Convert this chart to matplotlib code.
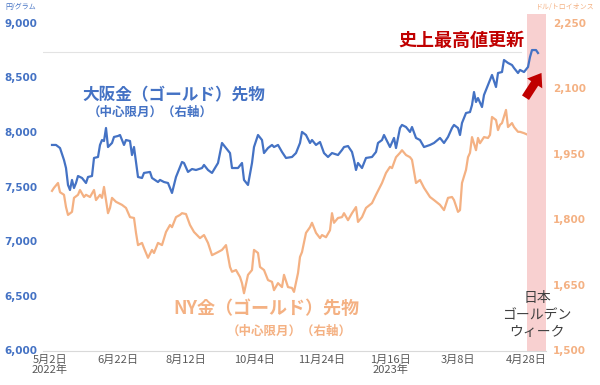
import matplotlib
matplotlib.use('Agg')
import matplotlib.pyplot as plt

plt.rcParams['font.family'] = ['Noto Sans CJK JP', 'DejaVu Sans']

# 大阪金（ゴールド）先物 円/グラム  (営業日インデックス, 値)
osaka_idx = [1, 3, 5, 7, 8, 9, 10, 11, 12, 13, 14, 16, 18, 19, 21, 22, 24, 25, 26, 27,
             28, 29, 31, 32, 34, 35, 37, 38, 40, 41, 42, 43, 44, 46, 47, 50, 51, 54, 55, 57,
             59, 61, 63, 66, 67, 69, 71, 73, 76, 77, 79, 81, 84, 86, 88, 90, 91, 94, 96, 97,
             99, 101, 102, 104, 106, 107, 109, 111, 112, 114, 116, 118, 121, 123, 125, 126, 128, 130, 131, 133,
             135, 137, 139, 141, 144, 146, 147, 149, 151, 152, 153, 154, 156, 158, 161, 163, 164, 166, 167, 169,
             170, 172, 173, 175, 176, 178, 180, 181, 183, 185, 187, 190, 192, 195, 197, 199, 201, 202, 204, 205,
             206, 208, 210, 211, 212, 213, 214, 216, 217, 219, 220, 221, 223, 224, 226, 227, 229, 231, 232, 234,
             235, 237, 239, 240, 241, 243, 244]
osaka = [7880, 7880, 7852, 7742, 7669, 7514, 7468, 7560, 7486, 7532, 7596, 7578, 7532, 7587, 7596, 7761, 7770, 7880, 7925, 7916,
         8035, 7861, 7898, 7953, 7962, 7971, 7880, 7925, 7916, 7788, 7861, 7724, 7587, 7578, 7624, 7633, 7578, 7541, 7560, 7541,
         7532, 7441, 7587, 7724, 7715, 7633, 7660, 7651, 7669, 7697, 7651, 7624, 7715, 7898, 7852, 7806, 7669, 7669, 7715, 7560,
         7514, 7715, 7861, 7971, 7925, 7806, 7852, 7880, 7861, 7880, 7816, 7761, 7770, 7806, 7898, 7999, 7971, 7898, 7925, 7880,
         7907, 7806, 7770, 7806, 7788, 7834, 7861, 7870, 7816, 7742, 7651, 7715, 7669, 7761, 7770, 7816, 7898, 7925, 7971, 7898,
         7861, 7944, 7852, 8035, 8063, 8044, 7999, 8044, 7944, 7925, 7861, 7880, 7898, 7944, 7898, 7953, 8035, 8063, 8035, 7971,
         8081, 8172, 8181, 8245, 8364, 8273, 8309, 8227, 8337, 8428, 8474, 8520, 8410, 8538, 8547, 8657, 8630, 8611, 8584, 8538,
         8566, 8547, 8593, 8684, 8748, 8748, 8721]

# NY金（ゴールド）先物 ドル/トロイオンス
ny_idx = [1, 2, 4, 5, 7, 8, 9, 11, 12, 14, 15, 17, 18, 20, 22, 23, 25, 26, 27, 29,
          30, 31, 33, 36, 38, 40, 42, 43, 44, 46, 47, 49, 51, 52, 54, 56, 58, 60, 61, 63,
          65, 66, 68, 70, 72, 75, 77, 79, 81, 84, 86, 88, 90, 91, 93, 95, 96, 97, 99, 101,
          102, 104, 105, 107, 109, 111, 112, 114, 116, 117, 119, 121, 122, 124, 125, 126, 128, 130, 131, 133,
          135, 136, 138, 140, 141, 142, 144, 146, 147, 149, 151, 153, 154, 156, 158, 161, 163, 165, 166, 168,
          170, 171, 173, 175, 176, 178, 180, 181, 183, 185, 187, 190, 192, 195, 197, 199, 201, 202, 204, 205,
          206, 208, 209, 210, 211, 213, 214, 215, 217, 219, 220, 221, 223, 224, 225, 226, 228, 229, 231, 232,
          234, 235, 237, 239, 241, 242, 243]
ny = [1865, 1872, 1883, 1862, 1856, 1828, 1810, 1817, 1849, 1856, 1867, 1851, 1856, 1851, 1867, 1844, 1856, 1849, 1874, 1814,
      1826, 1849, 1840, 1833, 1826, 1805, 1803, 1769, 1741, 1746, 1734, 1712, 1730, 1723, 1746, 1741, 1771, 1787, 1782, 1805,
      1810, 1814, 1812, 1787, 1771, 1757, 1764, 1746, 1718, 1725, 1730, 1741, 1691, 1680, 1684, 1668, 1654, 1631, 1673, 1684,
      1730, 1723, 1691, 1684, 1661, 1657, 1638, 1654, 1645, 1673, 1645, 1643, 1634, 1677, 1714, 1725, 1769, 1782, 1792, 1769,
      1757, 1764, 1759, 1775, 1814, 1792, 1803, 1805, 1814, 1798, 1814, 1828, 1794, 1805, 1826, 1837, 1856, 1874, 1883, 1906,
      1920, 1917, 1942, 1952, 1958, 1947, 1942, 1936, 1883, 1890, 1872, 1851, 1844, 1833, 1821, 1849, 1851, 1844, 1817, 1821,
      1883, 1913, 1942, 1952, 1988, 1958, 1986, 1974, 1988, 1986, 1993, 2034, 2027, 2004, 2016, 2020, 2050, 2011, 2020, 2011,
      2000, 2000, 1997, 1993, 2027, 2055, 2022]

# 目盛り
tick_pos = [0, 34, 68, 102, 136, 170, 204, 238]
tick_labels = ['5月2日\n2022年', '6月22日', '8月12日', '10月4日', '11月24日', '1月16日\n2023年', '3月8日', '4月28日']
left_ticks = [6000, 6500, 7000, 7500, 8000, 8500, 9000]
right_ticks = [1500, 1650, 1800, 1950, 2100, 2250]

# ゴールデンウィーク
gw_start, gw_end = 238.5, 248
prev_high = 8730
arrow_from = (237, 8291)
arrow_to = (246.5, 8560)

blue = '#4472c4'
orange = '#f4b183'
red = '#c00000'

fig = plt.figure(figsize=(6, 3.85), dpi=100)
ax = fig.add_axes([43 / 600, 1 - 350.5 / 385, 503 / 600, 328 / 385])
ax2 = ax.twinx()

# ピンクの帯は軸の上端より少し上まで
ax.axvspan(gw_start, gw_end, ymax=1.025, color='#f8d0d0', lw=0, zorder=0, clip_on=False)
ax.axhline(prev_high, xmax=0.95, color='#e3e3e3', lw=0.8, zorder=1)

ax2.plot(ny_idx, ny, color=orange, lw=1.6, zorder=2)
ax.plot(osaka_idx, osaka, color=blue, lw=1.6, zorder=3)
ax.set_zorder(ax2.get_zorder() + 1)
ax.patch.set_visible(False)

ax.set_xlim(-3.5, 248)
ax.set_ylim(6000, 9000)
ax2.set_ylim(1500, 2250)

ax.set_xticks(tick_pos)
ax.set_xticklabels(tick_labels, fontsize=8, color='#595959', linespacing=1.0)
ax.set_yticks(left_ticks)
ax.set_yticklabels([f'{v:,}' for v in left_ticks], fontsize=7.5, color=blue,
                   fontweight='bold', family='DejaVu Sans')
ax2.set_yticks(right_ticks)
ax2.set_yticklabels([f'{v:,}' for v in right_ticks], fontsize=7.5, color=orange,
                    fontweight='bold', family='DejaVu Sans')

ax.tick_params(axis='y', length=0, pad=4)
ax2.tick_params(axis='y', length=0, pad=5)
ax.tick_params(axis='x', length=0, pad=3)
for a in (ax, ax2):
    for s in ['top', 'left', 'right']:
        a.spines[s].set_visible(False)
    a.spines['bottom'].set_color('#d9d9d9')
ax2.spines['bottom'].set_visible(False)

# 単位
fig.text(5 / 600, 1 - 7 / 385, '円/グラム', fontsize=5, color=blue, va='center')
fig.text(595 / 600, 1 - 7 / 385, 'ドル/トロイオンス', fontsize=5, color=orange, va='center', ha='right')

# 系列ラベル
fig.text(82 / 600, 1 - 95 / 385, '大阪金（ゴールド）先物', fontsize=12, color=blue,
         fontweight='bold', va='center')
fig.text(88 / 600, 1 - 112 / 385, '（中心限月）（右軸）', fontsize=9, color=blue,
         fontweight='bold', va='center')
fig.text(173 / 600, 1 - 308 / 385, 'NY金（ゴールド）先物', fontsize=13, color=orange,
         fontweight='bold', va='center')
fig.text(227 / 600, 1 - 331 / 385, '（中心限月）（右軸）', fontsize=9, color=orange,
         fontweight='bold', va='center')

fig.text(461 / 600, 1 - 40 / 385, '史上最高値更新', fontsize=13, color=red,
         fontweight='bold', va='center', ha='center')
ax.annotate('', xy=arrow_to, xytext=arrow_from,
            arrowprops=dict(arrowstyle='simple,head_width=1.3,head_length=0.9,tail_width=0.6',
                            color=red, lw=0))

fig.text(537 / 600, 1 - 315 / 385, '日本\nゴールデン\nウィーク', fontsize=10, color='#404040',
         va='center', ha='center', linespacing=1.25)

plt.savefig('out.png', dpi=100)
